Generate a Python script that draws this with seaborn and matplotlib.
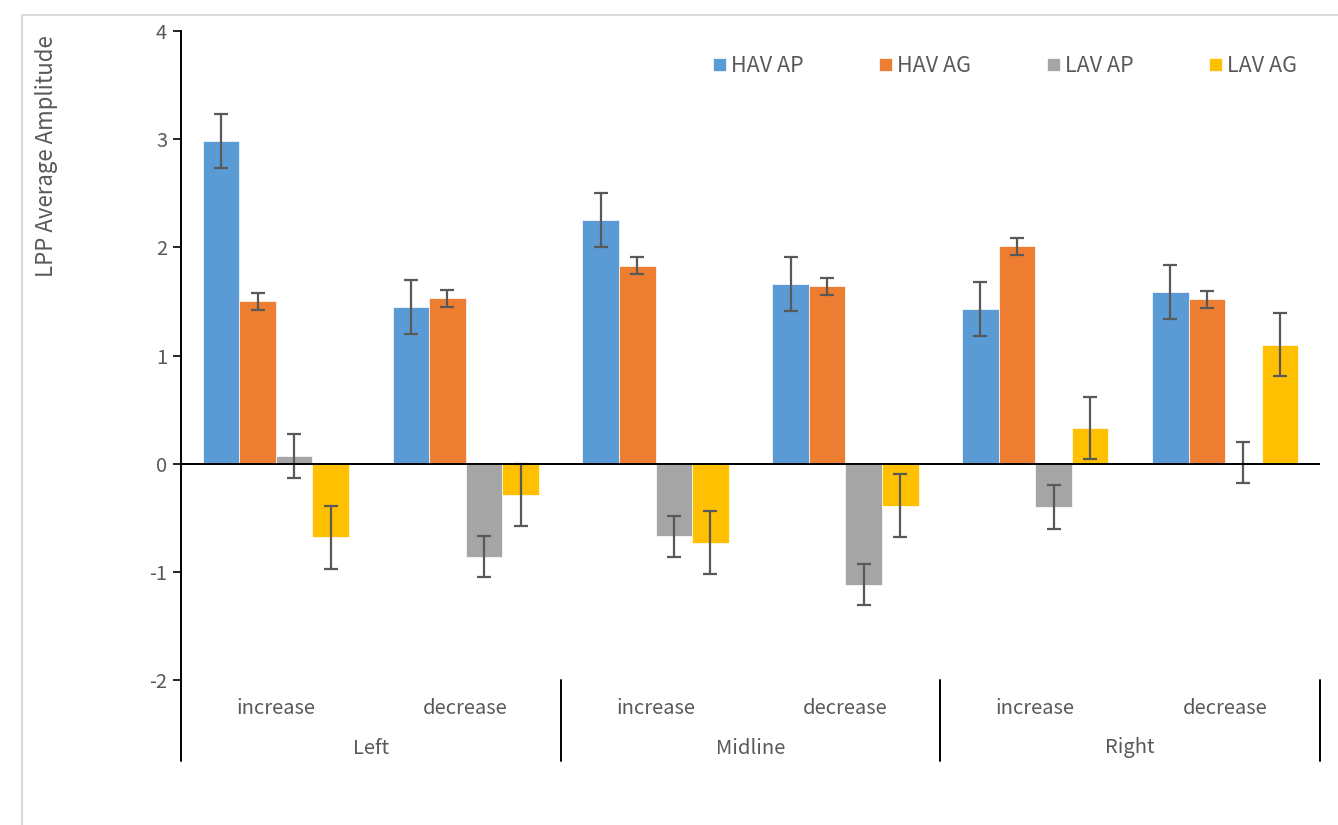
import matplotlib
matplotlib.use("Agg")
import matplotlib.pyplot as plt
import matplotlib.transforms as mtransforms
from matplotlib.patches import Rectangle
import pandas as pd
import seaborn as sns

regions = ["Left", "Midline", "Right"]
directions = ["increase", "decrease"]
series = ["HAV AP", "HAV AG", "LAV AP", "LAV AG"]
colors = ["#5B9BD5", "#ED7D31", "#A5A5A5", "#FFC000"]

# one list per series, in order Left-inc, Left-dec, Mid-inc, Mid-dec, Right-inc, Right-dec
hav_ap = [2.98, 1.45, 2.25, 1.66, 1.43, 1.59]
hav_ag = [1.50, 1.53, 1.83, 1.64, 2.01, 1.52]
lav_ap = [0.07, -0.86, -0.67, -1.12, -0.40, 0.01]
lav_ag = [-0.68, -0.29, -0.73, -0.39, 0.33, 1.10]

hav_ap_err = [0.25, 0.25, 0.25, 0.25, 0.25, 0.25]
hav_ag_err = [0.08, 0.08, 0.08, 0.08, 0.08, 0.08]
lav_ap_err = [0.20, 0.19, 0.19, 0.19, 0.20, 0.19]
lav_ag_err = [0.29, 0.29, 0.29, 0.29, 0.29, 0.29]

values = [hav_ap, hav_ag, lav_ap, lav_ag]
errors = [hav_ap_err, hav_ag_err, lav_ap_err, lav_ag_err]

conds = [f"{r}-{d}" for r in regions for d in directions]
rows = []
for s, vals in zip(series, values):
    for c, v in zip(conds, vals):
        rows.append({"cond": c, "series": s, "value": v})
df = pd.DataFrame(rows)

sns.set_style("white")
plt.rcParams["font.family"] = ["Noto Sans CJK SC", "DejaVu Sans"]
text_color = "#595959"

W, H = 1338, 825
fig = plt.figure(figsize=(W / 100, H / 100), dpi=100)
fig.patches.append(Rectangle((22 / W, -0.1), 1.2, 1 - 15 / H + 0.1,
                             transform=fig.transFigure, fill=False,
                             edgecolor="#D9D9D9", lw=1.5))
ax = fig.add_axes([181 / W, 1 - 680 / H, 1139 / W, 649 / H])

sns.barplot(data=df, x="cond", y="value", hue="series", order=conds,
            hue_order=series, palette=colors, width=0.77, saturation=1,
            errorbar=None, edgecolor="white", linewidth=0.5, ax=ax)

for cont, vals, errs in zip(ax.containers, values, errors):
    xs = [p.get_x() + p.get_width() / 2 for p in cont]
    ax.errorbar(xs, vals, yerr=errs, fmt="none", ecolor="#595959",
                elinewidth=1.6, capsize=5, capthick=1.6, zorder=5)

ax.axhline(0, color="black", lw=1.4, zorder=6)
ax.set_ylim(-2, 4)
ax.set_xlim(-0.5, len(conds) - 0.5)
ax.set_yticks([-2, -1, 0, 1, 2, 3, 4])
ax.set_yticklabels(["-2", "-1", "0", "1", "2", "3", "4"])
ax.tick_params(axis="y", direction="out", length=6, width=1.2, color="black",
               labelsize=14.5, labelcolor=text_color, left=True, pad=4)
ax.set_xticks([])
ax.set_xlabel("")
ax.set_ylabel("LPP Average Amplitude", fontsize=16, color=text_color)
ax.yaxis.set_label_coords(-0.108, 0.807)

for side in ["top", "right", "bottom"]:
    ax.spines[side].set_visible(False)
ax.spines["left"].set_color("black")
ax.spines["left"].set_linewidth(1.4)

trans = mtransforms.blended_transform_factory(ax.transData, ax.transAxes)
y_low = -(761 - 680) / 649
for xb in [-0.5, 1.5, 3.5, 5.5]:
    ax.plot([xb, xb], [0, y_low], color="black", lw=1.4, transform=trans,
            clip_on=False)

for i, c in enumerate(conds):
    ax.text(i, -(709 - 680) / 649, c.split("-")[1], transform=trans,
            ha="center", va="center", fontsize=14.5, color=text_color)
for j, r in enumerate(regions):
    ax.text(2 * j + 0.5, -(748 - 680) / 649, r, transform=trans,
            ha="center", va="center", fontsize=14.5, color=text_color)

handles, labels = ax.get_legend_handles_labels()
ax.legend(handles, labels, loc="center", bbox_to_anchor=(1005 / W, 1 - 66 / H),
          bbox_transform=fig.transFigure, ncol=4, frameon=False,
          handlelength=0.6, handleheight=0.6, handletextpad=0.25,
          columnspacing=3.5, fontsize=15.5, labelcolor=text_color)

fig.savefig("out.png", dpi=100)
plt.close(fig)
